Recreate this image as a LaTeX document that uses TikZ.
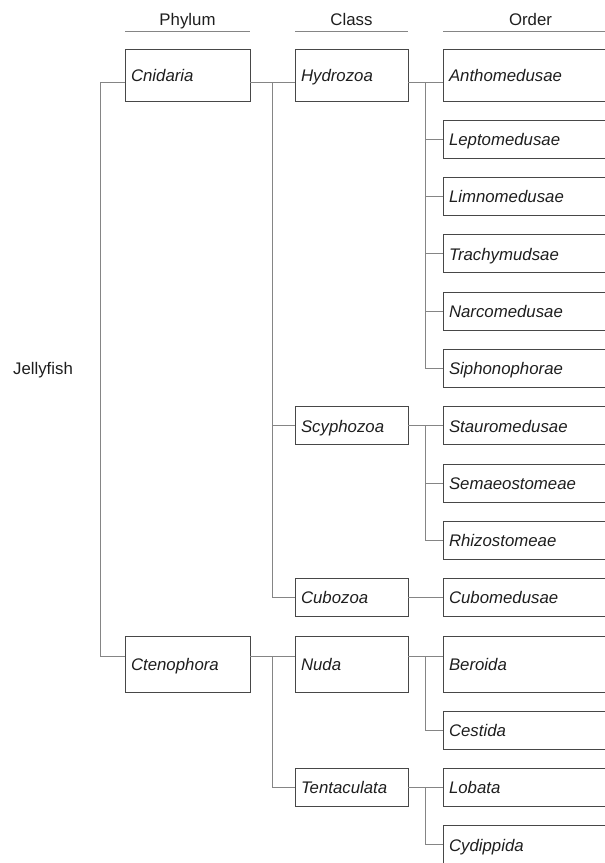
\documentclass[tikz,border=0pt]{standalone}
\usepackage{fontspec}
\setsansfont{Liberation Sans}
\usetikzlibrary{
	positioning,
	calc,
}
\definecolor{BoxGray}{HTML}{474747}
\definecolor{LinkGray}{HTML}{858585}
\definecolor{TextGray}{HTML}{1E1E1E}
\tikzset{every picture/.style={/utils/exec={\sffamily}}}

\begin{document}
\begin{tikzpicture} [
			x=1pt,y=-1pt,
			every node/.style={text=TextGray,font=\fontsize{16.8}{19}\selectfont},
			taxon/.style={draw=BoxGray,line width=1pt,outer sep=0pt,minimum height=38pt,inner xsep=6pt,inner ysep=0pt,text height=13pt,text depth=0.5pt,align=left,font=\fontsize{16.8}{19}\selectfont\itshape},
			phylumbox/.style={taxon,text width=113pt},
			classbox/.style={taxon,text width=101pt},
			orderbox/.style={taxon,text width=163pt},
			head/.style={inner xsep=0pt,inner ysep=2pt,outer sep=0pt,text height=12pt,text depth=4pt,align=center},
			rule/.style={draw=LinkGray,line width=1pt},
			link/.style={draw=LinkGray,line width=1pt}
		]
		\useasboundingbox (0,0) rectangle (605,863);
		\clip (0,0) rectangle (605,863);

		\node [orderbox, anchor=north west, minimum height=52pt] (anthomedusae) at (443,49) {Anthomedusae};
		\node [orderbox, below=19.3pt of anthomedusae] (leptomedusae) {Leptomedusae};
		\node [orderbox, below=19.3pt of leptomedusae] (limnomedusae) {Limnomedusae};
		\node [orderbox, below=19.3pt of limnomedusae] (trachymudsae) {Trachymudsae};
		\node [orderbox, below=19.3pt of trachymudsae] (narcomedusae) {Narcomedusae};
		\node [orderbox, below=19.3pt of narcomedusae] (siphonophorae) {Siphonophorae};
		\node [orderbox, below=19.3pt of siphonophorae] (stauromedusae) {Stauromedusae};
		\node [orderbox, below=19.3pt of stauromedusae] (semaeostomeae) {Semaeostomeae};
		\node [orderbox, below=19.3pt of semaeostomeae] (rhizostomeae) {Rhizostomeae};
		\node [orderbox, below=19.3pt of rhizostomeae] (cubomedusae) {Cubomedusae};
		\node [orderbox, below=19.3pt of cubomedusae, minimum height=56pt] (beroida) {Beroida};
		\node [orderbox, below=19.3pt of beroida] (cestida) {Cestida};
		\node [orderbox, below=19.3pt of cestida] (lobata) {Lobata};
		\node [orderbox, below=19.3pt of lobata] (cydippida) {Cydippida};

		\node [classbox, left=35pt of anthomedusae, minimum height=52pt] (hydrozoa) {Hydrozoa};
		\node [classbox, left=35pt of stauromedusae] (scyphozoa) {Scyphozoa};
		\node [classbox, left=35pt of cubomedusae] (cubozoa) {Cubozoa};
		\node [classbox, left=35pt of beroida, minimum height=56pt] (nuda) {Nuda};
		\node [classbox, left=35pt of lobata] (tentaculata) {Tentaculata};

		\node [phylumbox, left=45pt of hydrozoa, minimum height=52pt] (cnidaria) {Cnidaria};
		\node [phylumbox, left=45pt of nuda, minimum height=56pt] (ctenophora) {Ctenophora};

		\node at (43,370) (jellyfish) {Jellyfish};

		\node [head, text width=125pt, above=18pt of cnidaria] (phylum) {Phylum};
		\node [head, text width=113pt, above=18pt of hydrozoa] (class) {Class};
		\node [head, text width=175pt, above=18pt of anthomedusae] (order) {Order};
		\path [rule] (phylum.south west) -- (phylum.south east);
		\path [rule] (class.south west) -- (class.south east);
		\path [rule] (order.south west) -- (order.south east);

		\coordinate (topport) at ([yshift=-33pt]anthomedusae.north west);
		\coordinate (lowport) at ([yshift=-20pt]beroida.north west);

		\path [link] (cnidaria.west |- topport) -- ++(-25,0) |- (ctenophora.west |- lowport);

		\path [link] (cnidaria.east |- topport) -- (hydrozoa.west |- topport);
		\coordinate (cnfork) at ($(cnidaria.east |- topport)!.5!(hydrozoa.west |- topport)$);
		\path [link] (cnfork) |- (scyphozoa.west);
		\path [link] (cnfork) |- (cubozoa.west);

		\path [link] (hydrozoa.east |- topport) -- (anthomedusae.west |- topport);
		\coordinate (hyfork) at ($(hydrozoa.east |- topport)!.5!(anthomedusae.west |- topport)$);
		\path [link] (hyfork) |- (leptomedusae.west);
		\path [link] (hyfork) |- (limnomedusae.west);
		\path [link] (hyfork) |- (trachymudsae.west);
		\path [link] (hyfork) |- (narcomedusae.west);
		\path [link] (hyfork) |- (siphonophorae.west);

		\path [link] (scyphozoa) -- (stauromedusae);
		\coordinate (scfork) at ($(scyphozoa.east)!.5!(stauromedusae.west)$);
		\path [link] (scfork) |- (semaeostomeae.west);
		\path [link] (scfork) |- (rhizostomeae.west);

		\path [link] (cubozoa) -- (cubomedusae);

		\path [link] (ctenophora.east |- lowport) -- (nuda.west |- lowport);
		\coordinate (ctfork) at ($(ctenophora.east |- lowport)!.5!(nuda.west |- lowport)$);
		\path [link] (ctfork) |- (tentaculata.west);

		\path [link] (nuda.east |- lowport) -- (beroida.west |- lowport);
		\coordinate (nufork) at ($(nuda.east |- lowport)!.5!(beroida.west |- lowport)$);
		\path [link] (nufork) |- (cestida.west);

		\path [link] (tentaculata) -- (lobata);
		\coordinate (tefork) at ($(tentaculata.east)!.5!(lobata.west)$);
		\path [link] (tefork) |- (cydippida.west);
	\end{tikzpicture}
\end{document}
